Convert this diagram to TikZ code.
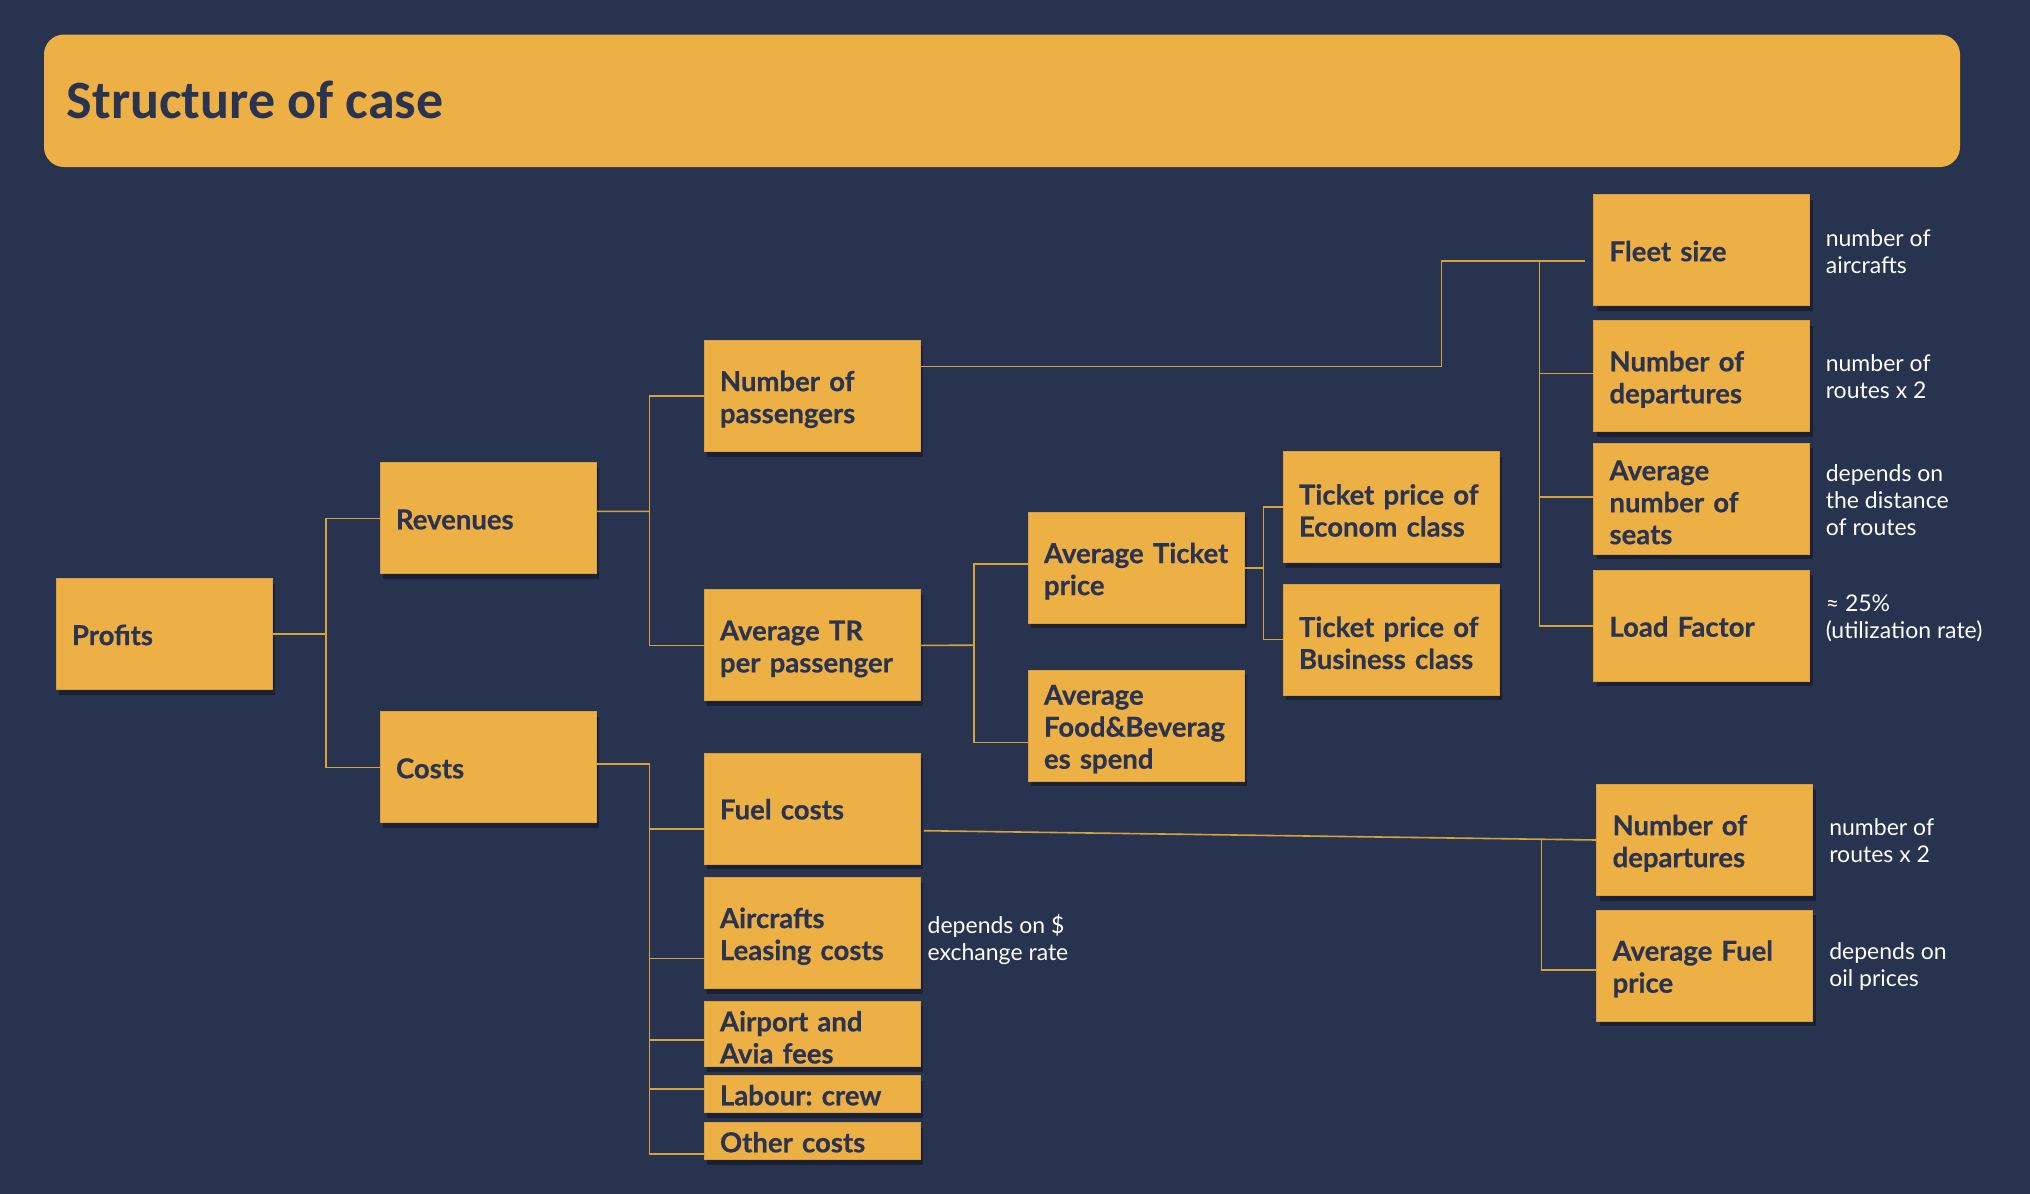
\documentclass[tikz,border=0pt]{standalone}
\usepackage{fontspec}
\setmainfont{Lato}[BoldFeatures={FakeBold=0.5}]
\newfontfamily\titlefont{Carlito}
\usetikzlibrary{shadows,calc}
\definecolor{bgc}{HTML}{28334F}
\definecolor{boxfill}{HTML}{EDB044}
\definecolor{boxedge}{HTML}{D9A03C}
\definecolor{ink}{HTML}{2A3350}
\definecolor{wirec}{HTML}{D6A23C}
\tikzset{
  box/.style={rectangle, fill=boxfill, draw=boxedge, line width=1pt, text=ink,
    font=\bfseries\fontsize{27.5}{32}\selectfont, align=left, text width=184pt,
    inner xsep=16pt, inner ysep=0pt, minimum height=111pt,
    execute at begin node={\frenchspacing\rule{0pt}{#1}},
    drop shadow={shadow xshift=3pt, shadow yshift=-5pt, opacity=0.35, fill=black}},
  box/.default=27pt,
  notetext/.style={text=white, font=\fontsize{23}{27}\selectfont, align=left, inner sep=0pt, anchor=west},
  wire/.style={draw=wirec, line width=1.6pt}
}
\begin{document}
\begin{tikzpicture}[x=1pt,y=-1pt]
\fill[bgc] (0,0) rectangle (2030,1194);
\useasboundingbox (0,0) rectangle (2030,1194);
% title bar
\fill[boxfill, rounded corners=20pt] (44,34.5) rectangle (1960,167);
\node[anchor=base west, font=\titlefont\bfseries\fontsize{54}{60}\selectfont, text=ink, inner sep=0pt] (title) at (66.7,118.6) {Structure of case};

% boxes
\node[box=22pt] (profits) at (164,634.2) {Profits};
\node[box=22pt] (revenues) at (488,518.4) {Revenues};
\node[box=22pt] (costs) at (488,767.4) {Costs};
\node[box] (nop) at (812,396.1) {Number~of\\passengers};
\node[box] (atr) at (812,645.4) {Average~TR\\per~passenger};
\node[box=22pt] (fuel) at (812,808.5) {Fuel~costs};
\node[box] (lease) at (812,933) {Aircrafts\\Leasing~costs};
\node[box, minimum height=65.5pt] (airport) at (812,1034) {Airport~and\\Avia~fees};
\node[box=22pt, minimum height=37pt] (labour) at (812,1094.4) {Labour:~crew};
\node[box=22pt, minimum height=37pt] (other) at (812,1141.4) {Other~costs};
\node[box] (atp) at (1136,567.9) {Average~Ticket\\price};
\node[box] (fnb) at (1136,725.5) {Average\\Food\&Beverag\\es~spend};
\node[box] (econ) at (1391,507.2) {Ticket~price~of\\Econom~class};
\node[box] (bus) at (1391,639.6) {Ticket~price~of\\Business~class};
\node[box=22pt] (fleet) at (1701.5,250.3) {Fleet~size};
\node[box] (dep) at (1701.5,376.1) {Number~of\\departures};
\node[box] (seats) at (1701.5,498.8) {Average\\number~of\\seats};
\node[box=22pt] (load) at (1701.5,625.8) {Load~Factor};
\node[box] (dep2) at (1704.6,840) {Number~of\\departures};
\node[box] (afuel) at (1704.6,965.5) {Average~Fuel\\price};

% annotations
\node[notetext] (n1) at ([xshift=15.6pt,yshift=-1pt]fleet.east) {number of\\aircrafts};
\node[notetext] (n2) at ([xshift=15.6pt,yshift=-1pt]dep.east) {number of\\routes x 2};
\node[notetext] (n3) at ([xshift=15.6pt,yshift=-1pt]seats.east) {depends on\\the distance\\of routes};
\node[notetext] (n4) at ([xshift=15.6pt,yshift=7pt]load.east) {≈ 25\%\\(utilization rate)};
\node[notetext] (n5) at ([xshift=7pt,yshift=-7pt]lease.east) {depends on \$\\exchange rate};
\node[notetext] (n6) at ([xshift=16pt,yshift=-1pt]dep2.east) {number of\\routes x 2};
\node[notetext] (n7) at ([xshift=16pt,yshift=-1pt]afuel.east) {depends on\\oil prices};

% junctions
\coordinate (j1) at (326.2,634.2);
\coordinate (j2) at (649.4,511.3);
\coordinate (j3) at (649.6,764);
\coordinate (j4) at (973.7,645.2);
\coordinate (j5) at (1263.5,567.9);
\coordinate (j6) at (1441.5,260.8);
\coordinate (j7) at (1539.3,260.8);
\coordinate (j8) at (1541.4,838.6);

% connectors
\draw[wire] (profits.east) -- (j1);
\draw[wire] (revenues.west) -| (j1) |- (costs.west);
\draw[wire] ([yshift=7pt]revenues.east) -- (j2);
\draw[wire] (nop.west) -| (j2) |- (atr.west);
\draw[wire] ([yshift=3.4pt]costs.east) -- (j3) |- ([yshift=-12.4pt]other.west);
\draw[wire] (j3) |- ([yshift=-20.7pt]fuel.west);
\draw[wire] (j3) |- ([yshift=-25.4pt]lease.west);
\draw[wire] (j3) |- ([yshift=-5.8pt]airport.west);
\draw[wire] (j3) |- ([yshift=5.4pt]labour.west);
\draw[wire] (atr.east) -- (j4);
\draw[wire] (j4) |- ([yshift=4.2pt]atp.west);
\draw[wire] (j4) |- ([yshift=-16.9pt]fnb.west);
\draw[wire] (atp.east) -- (j5);
\draw[wire] (j5) |- (econ.west);
\draw[wire] (j5) |- (bus.west);
\draw[wire] ([yshift=29.6pt]nop.east) -| (j6) -- ([xshift=-8pt,yshift=-10.5pt]fleet.west);
\draw[wire] (j7) |- ([yshift=2.6pt]dep.west);
\draw[wire] (j7) |- ([yshift=1.6pt]seats.west);
\draw[wire] (j7) |- (load.west);
\draw[wire] ([xshift=3.4pt,yshift=-22.2pt]fuel.east) -- (dep2.west);
\draw[wire] (j8) |- ([yshift=-4.2pt]afuel.west);
\end{tikzpicture}
\end{document}
